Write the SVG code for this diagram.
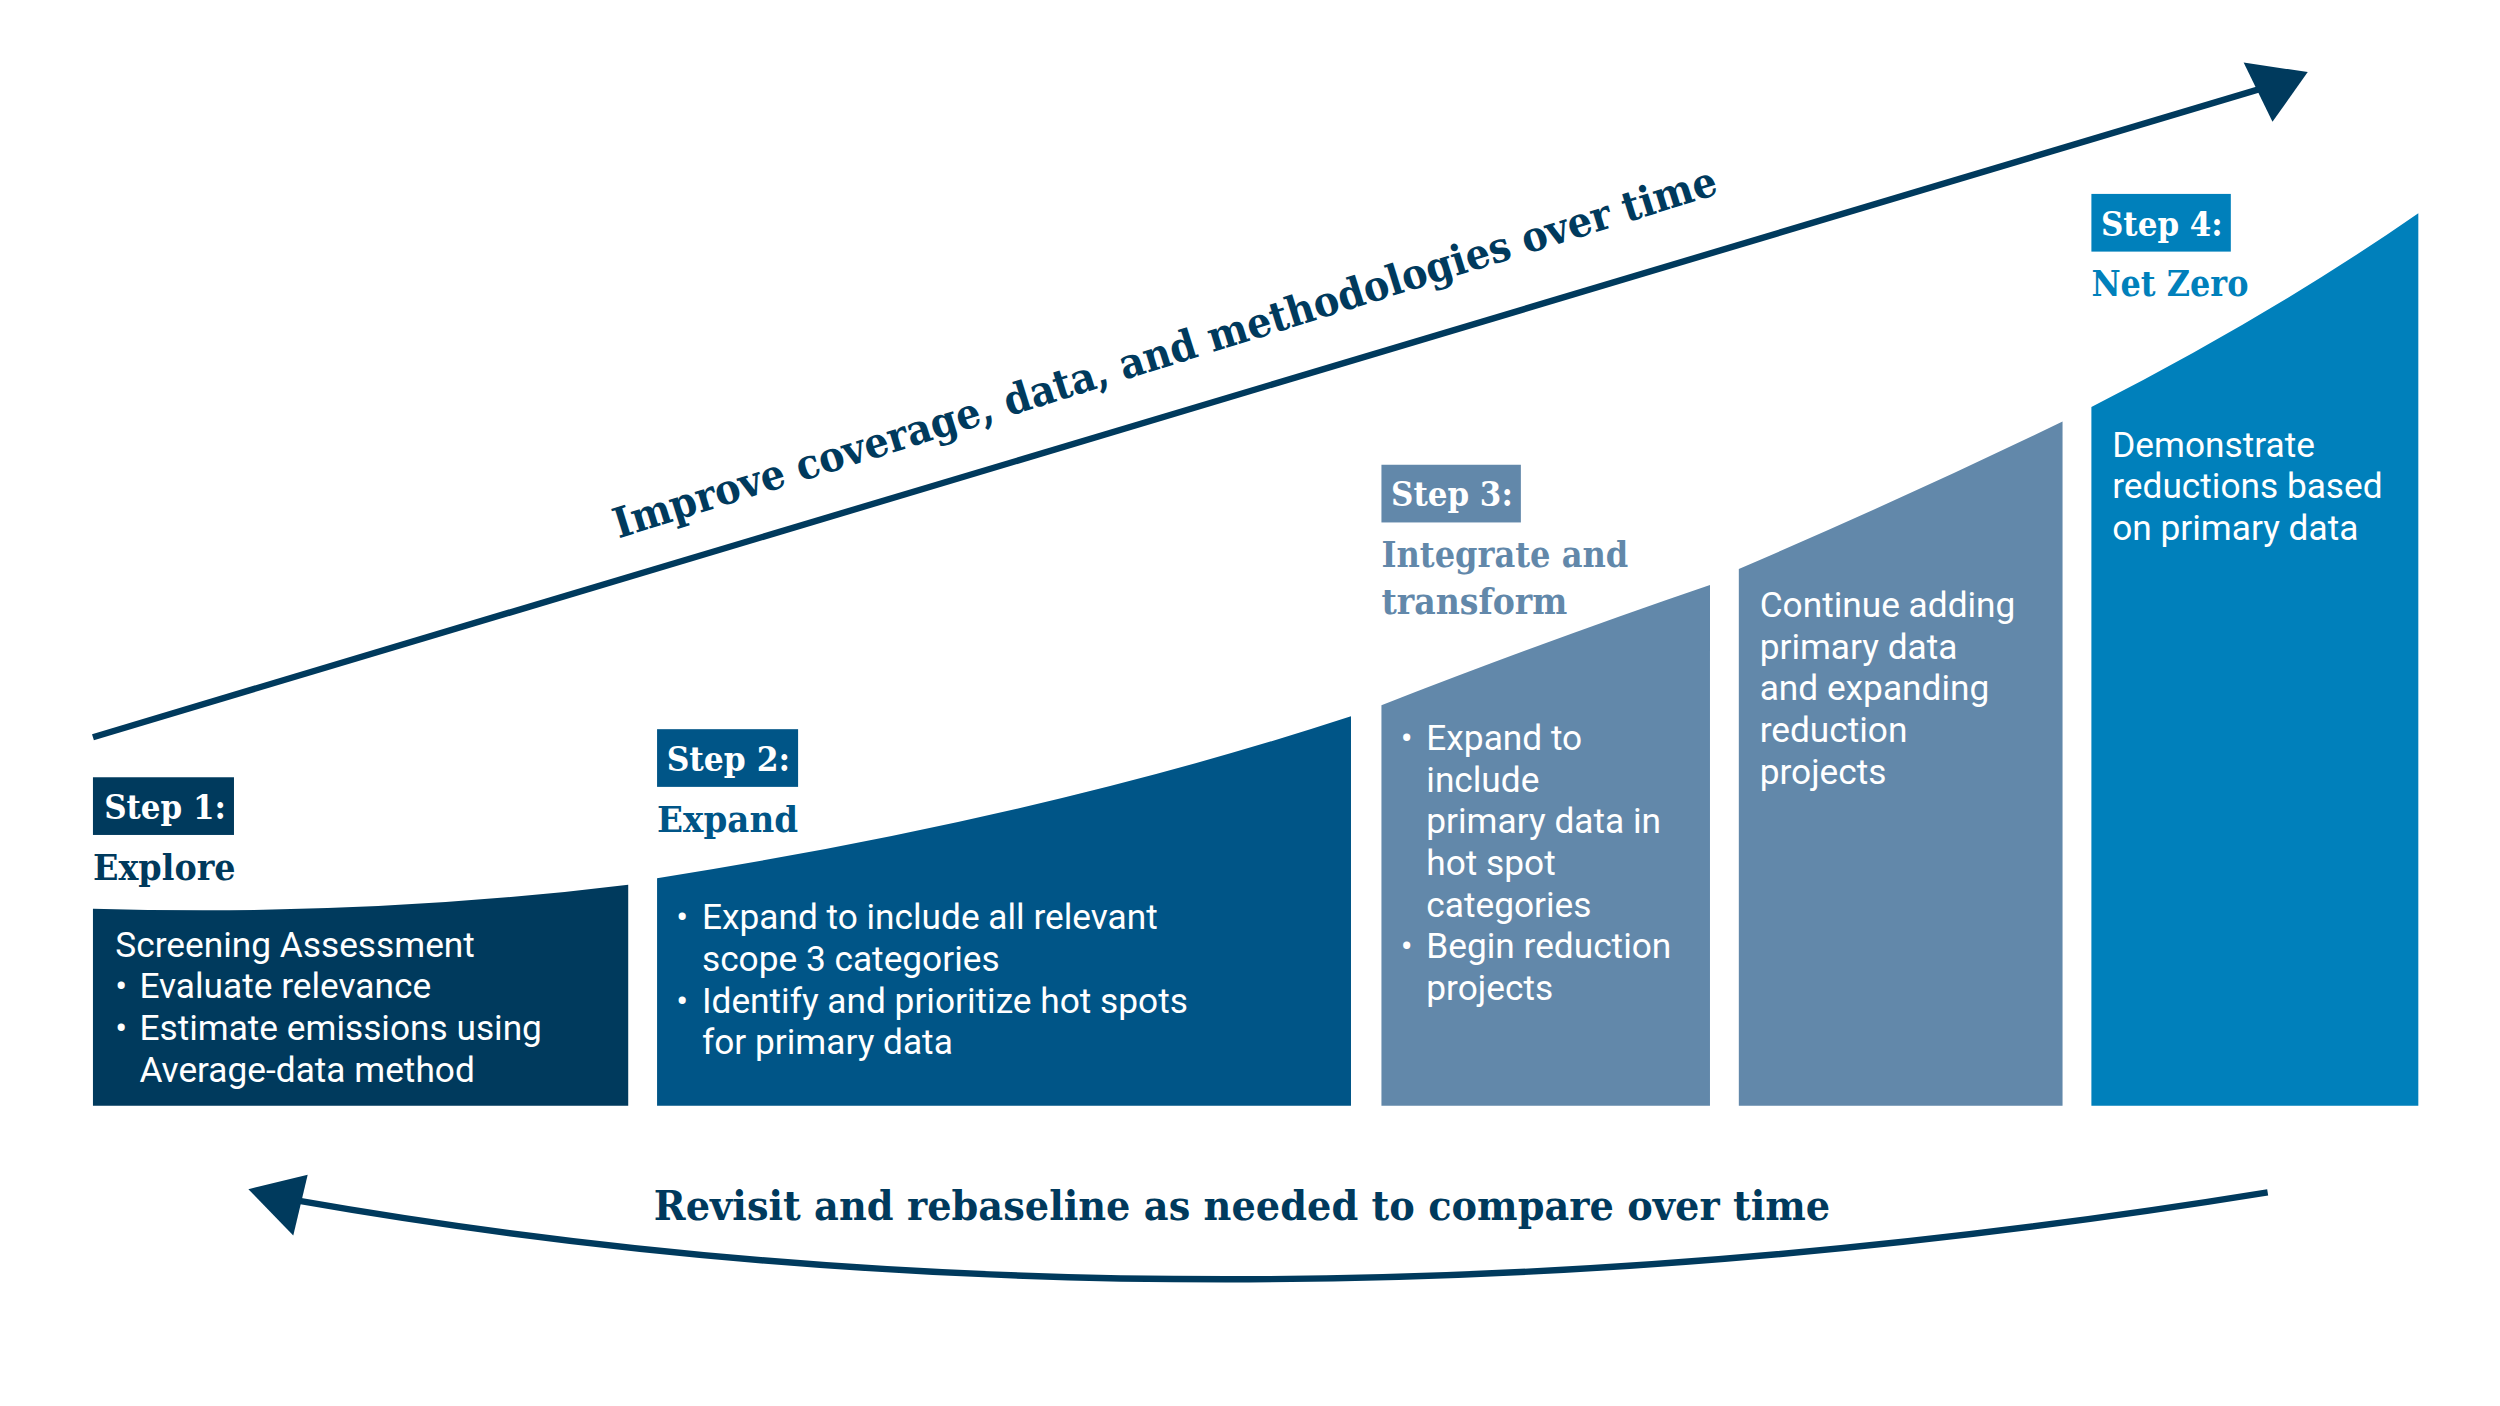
<svg xmlns="http://www.w3.org/2000/svg" width="2500" height="1406" viewBox="0 0 2500 1406">
<style>
.b{font-family:Roboto,"Liberation Sans",sans-serif;font-size:22px;fill:#fff}
.s{font-family:"DejaVu Serif","Liberation Serif",serif;font-weight:bold;font-size:21px;fill:#fff}
.t{font-family:"DejaVu Serif","Liberation Serif",serif;font-weight:bold;font-size:22px}
.h{font-family:"DejaVu Serif","Liberation Serif",serif;font-weight:bold;font-size:26px;fill:#003a5d}
</style>
<rect width="2500" height="1406" fill="#fff"/>
<g transform="scale(1.6026)">
<g id="connectors">
<path d="M58,460 L1412,55" stroke="#003a5d" stroke-width="4" fill="none"/>
<polygon points="1440,45 1400,39 1418,76" fill="#003a5d"/>
<path d="M1415,744 Q760,850 185,749" stroke="#003a5d" stroke-width="4" fill="none"/>
<polygon points="155,742 192,733 183,771" fill="#003a5d"/>
<text class="h" transform="translate(386,336) rotate(-17.4)" textLength="720" lengthAdjust="spacingAndGlyphs">Improve coverage, data, and methodologies over time</text>
<text class="h" x="408" y="761" textLength="734" lengthAdjust="spacingAndGlyphs">Revisit and rebaseline as needed to compare over time</text>
</g>
<g id="step1">
<path d="M58,567 Q230,572 392,552 L392,690 L58,690 Z" fill="#003a5d"/>
<rect x="58" y="485" width="88" height="36" fill="#003a5d"/>
<text class="s" x="65" y="511" textLength="76" lengthAdjust="spacingAndGlyphs">Step 1:</text>
<text class="t" x="58" y="549" fill="#003a5d" textLength="89" lengthAdjust="spacingAndGlyphs">Explore</text>
<text class="b" x="72" y="597">Screening Assessment</text>
<text class="b" x="72" y="623">• </text><text class="b" x="87" y="623">Evaluate relevance</text>
<text class="b" x="72" y="649">• </text><text class="b" x="87" y="649">Estimate emissions using</text>
<text class="b" x="87" y="675">Average-data method</text>
</g>
<g id="step2">
<path d="M410,548 Q650,510 843,447 L843,690 L410,690 Z" fill="#005587"/>
<rect x="410" y="455" width="88" height="36" fill="#005587"/>
<text class="s" x="416" y="481" textLength="77" lengthAdjust="spacingAndGlyphs">Step 2:</text>
<text class="t" x="410" y="519" fill="#005587" textLength="88" lengthAdjust="spacingAndGlyphs">Expand</text>
<text class="b" x="422" y="580">•</text><text class="b" x="438" y="580">Expand to include all relevant</text>
<text class="b" x="438" y="606">scope 3 categories</text>
<text class="b" x="422" y="632">•</text><text class="b" x="438" y="632">Identify and prioritize hot spots</text>
<text class="b" x="438" y="658">for primary data</text>
</g>
<g id="step3">
<path d="M862,440 Q970,398 1067,365 L1067,690 L862,690 Z" fill="#6288aa"/>
<rect x="862" y="290" width="87" height="36" fill="#6288aa"/>
<text class="s" x="868" y="316" textLength="76" lengthAdjust="spacingAndGlyphs">Step 3:</text>
<text class="t" x="862" y="354" fill="#6288aa" textLength="154" lengthAdjust="spacingAndGlyphs">Integrate and</text>
<text class="t" x="862" y="383" fill="#6288aa" textLength="116" lengthAdjust="spacingAndGlyphs">transform</text>
<text class="b" x="874" y="468">•</text><text class="b" x="890" y="468">Expand to</text>
<text class="b" x="890" y="494">include</text>
<text class="b" x="890" y="520">primary data in</text>
<text class="b" x="890" y="546">hot spot</text>
<text class="b" x="890" y="572">categories</text>
<text class="b" x="874" y="598">•</text><text class="b" x="890" y="598">Begin reduction</text>
<text class="b" x="890" y="624">projects</text>
</g>
<g id="step3b">
<path d="M1085,355 Q1190,310 1287,263 L1287,690 L1085,690 Z" fill="#6288aa"/>
<text class="b" x="1098" y="385">Continue adding</text>
<text class="b" x="1098" y="411">primary data</text>
<text class="b" x="1098" y="437">and expanding</text>
<text class="b" x="1098" y="463">reduction</text>
<text class="b" x="1098" y="489">projects</text>
</g>
<g id="step4">
<path d="M1305,254 Q1420,195 1509,133 L1509,690 L1305,690 Z" fill="#0080bb"/>
<rect x="1305" y="121" width="87" height="36" fill="#0080bb"/>
<text class="s" x="1311" y="147" textLength="76" lengthAdjust="spacingAndGlyphs">Step 4:</text>
<text class="t" x="1305" y="185" fill="#0080bb" textLength="98" lengthAdjust="spacingAndGlyphs">Net Zero</text>
<text class="b" x="1318" y="285">Demonstrate</text>
<text class="b" x="1318" y="311">reductions based</text>
<text class="b" x="1318" y="337">on primary data</text>
</g>
</g>
</svg>
